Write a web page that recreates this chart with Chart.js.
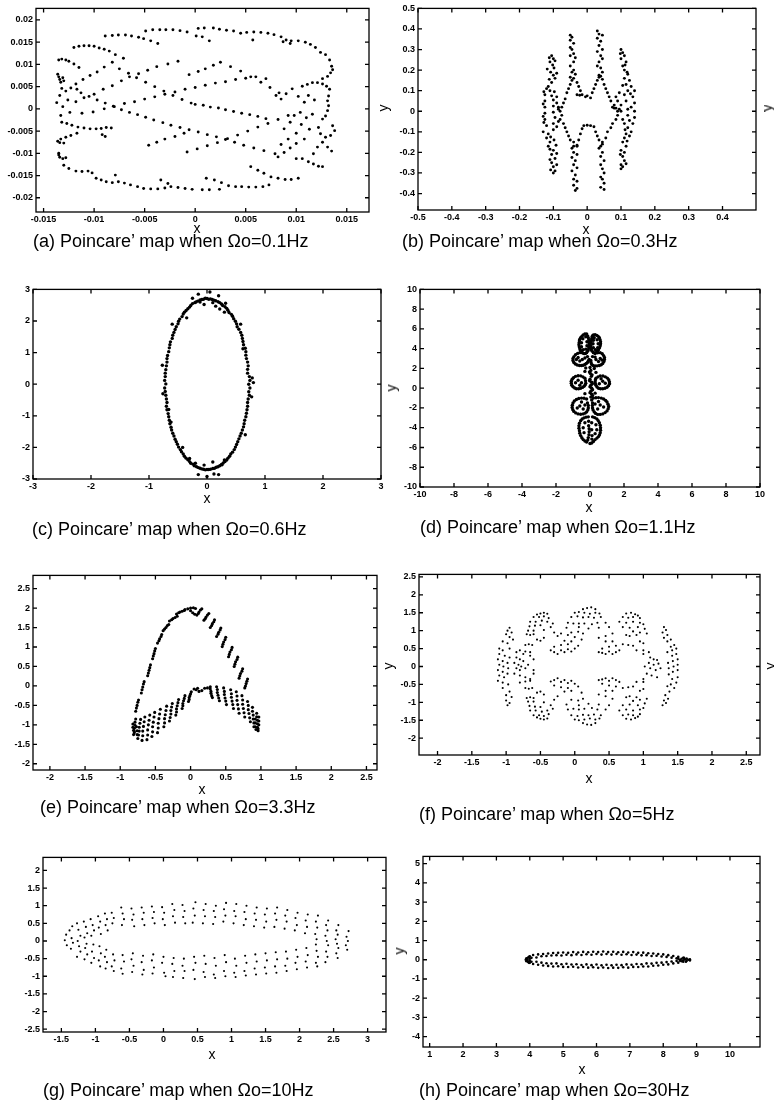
<!DOCTYPE html>
<html>
<head>
<meta charset="utf-8">
<script src="https://cdn.jsdelivr.net/npm/chart.js@4.4.1/dist/chart.umd.min.js"></script>
<style>
  html, body { margin: 0; padding: 0; background: #fff; }
  body { width: 774px; height: 1104px; position: relative; overflow: hidden;
         font-family: "Liberation Sans", Arial, sans-serif; color: #000; }
  .panel { position: absolute; }
  .cap { position: absolute; font-size: 18px; line-height: 18px; white-space: nowrap; }
  .xl { position: absolute; font-size: 14px; line-height: 14px; transform: translate(-50%, -50%); }
  .yl { position: absolute; font-size: 14px; line-height: 14px; transform: translate(-50%, -50%) rotate(-90deg); }
</style>
</head>
<body>
<script>
// ---- Poincaré section points (x, y) for each driving frequency ----

// Ωo = 0.1 Hz
const mapA = [
  [-0.0089,0.0164],[-0.0082,0.0165],[-0.0076,0.0166],[-0.0069,0.0166],[-0.0063,0.0164],[-0.0056,0.0161],[-0.0051,0.0158],[-0.0044,0.0153],[-0.0037,0.0147],
  [-0.0049,0.0175],[-0.0042,0.0178],[-0.0035,0.0178],[-0.0029,0.0178],[-0.0022,0.0178],[-0.0015,0.0176],[-0.0008,0.0173],[0.0003,0.0181],[0.0009,0.0182],[0.0018,0.0182],[0.0024,0.0179],[0.0031,0.0177],[0.0038,0.0175],[0.0045,0.0170],[0.0051,0.0172],[0.0058,0.0173],[0.0065,0.0172],[0.0072,0.0170],[0.0078,0.0167],[0.0085,0.0162],[0.0090,0.0155],[0.0095,0.0153],[0.0102,0.0153],[0.0109,0.0150],[0.0114,0.0145],[0.0119,0.0138],[0.0124,0.0127],[0.0129,0.0122],[0.0133,0.0110],[0.0135,0.0096],[0.0136,0.0088],[0.0134,0.0081],[0.0131,0.0073],[0.0126,0.0068],
  [0.0007,0.0162],[0.0014,0.0153],[0.0057,0.0155],[0.0087,0.0151],[0.0094,0.0147],[0.0001,0.0164],
  [-0.0120,0.0138],[-0.0115,0.0141],[-0.0110,0.0142],[-0.0105,0.0142],[-0.0100,0.0141],[-0.0095,0.0137],[-0.0090,0.0134],[-0.0085,0.0130],[-0.0079,0.0122],
  [-0.0135,0.0110],[-0.0132,0.0112],[-0.0128,0.0110],[-0.0125,0.0107],[-0.0120,0.0101],[-0.0115,0.0093],
  [-0.0136,0.0078],[-0.0135,0.0072],[-0.0134,0.0066],[-0.0133,0.0060],[-0.0131,0.0070],[-0.0130,0.0063],[-0.0137,0.0014],[-0.0132,0.0046],[-0.0123,0.0047],[-0.0117,0.0044],[-0.0134,0.0030],[-0.0128,0.0040],[-0.0126,0.0020],[-0.0131,0.0005],[-0.0124,-0.0008],[-0.0133,-0.0015],
  [-0.0118,0.0056],[-0.0111,0.0066],[-0.0104,0.0075],[-0.0097,0.0083],[-0.0090,0.0094],[-0.0082,0.0105],[-0.0071,0.0114],
  [-0.0118,0.0016],[-0.0110,0.0025],[-0.0100,0.0033],[-0.0091,0.0044],[-0.0082,0.0052],[-0.0073,0.0063],[-0.0065,0.0072],[-0.0056,0.0079],[-0.0047,0.0087],[-0.0038,0.0095],[-0.0027,0.0101],[-0.0017,0.0107],
  [-0.0112,-0.0010],[-0.0101,-0.0007],[-0.0090,0.0000],[-0.0080,0.0005],[-0.0070,0.0012],[-0.0060,0.0016],[-0.0050,0.0022],[-0.0040,0.0027],[-0.0030,0.0033],[-0.0020,0.0038],[-0.0010,0.0044],[0.0000,0.0048],[0.0010,0.0053],[0.0020,0.0058],[0.0030,0.0061],[0.0040,0.0066],[0.0050,0.0069],[0.0060,0.0072],[0.0070,0.0068],
  [-0.0113,0.0036],[-0.0105,0.0028],[-0.0097,0.0020],[-0.0089,0.0013],[-0.0081,0.0006],[-0.0073,-0.0002],[-0.0065,-0.0008],[-0.0057,-0.0013],[-0.0049,-0.0019],[-0.0041,-0.0025],[-0.0032,-0.0031],[-0.0024,-0.0037],[-0.0015,-0.0042],[-0.0006,-0.0047],[0.0003,-0.0052],[0.0012,-0.0058],[0.0021,-0.0063],[0.0030,-0.0069],[0.0039,-0.0075],[0.0048,-0.0082],[0.0058,-0.0088],[0.0068,-0.0094],[0.0079,-0.0101],
  [-0.0132,-0.0030],[-0.0127,-0.0033],[-0.0122,-0.0037],[-0.0116,-0.0041],[-0.0110,-0.0043],[-0.0104,-0.0045],[-0.0098,-0.0045],[-0.0093,-0.0044],[-0.0088,-0.0042],[-0.0083,-0.0043],[-0.0092,-0.0058],[-0.0089,-0.0062],
  [-0.0117,-0.0055],[-0.0123,-0.0060],[-0.0128,-0.0064],[-0.0133,-0.0068],[-0.0136,-0.0073],[-0.0134,-0.0076],[-0.0130,-0.0077],
  [-0.0135,-0.0100],[-0.0135,-0.0104],[-0.0134,-0.0109],[-0.0131,-0.0112],[-0.0128,-0.0110],
  [-0.0130,-0.0127],[-0.0125,-0.0134],[-0.0118,-0.0140],[-0.0112,-0.0141],[-0.0106,-0.0140],[-0.0102,-0.0144],[-0.0098,-0.0156],[-0.0093,-0.0160],[-0.0088,-0.0164],[-0.0082,-0.0166],[-0.0076,-0.0164],[-0.0070,-0.0167],[-0.0064,-0.0171],[-0.0057,-0.0175],[-0.0051,-0.0179],[-0.0044,-0.0180],[-0.0037,-0.0180],[-0.0030,-0.0178],[-0.0024,-0.0175],[-0.0017,-0.0177],[-0.0010,-0.0179],[-0.0003,-0.0181],[0.0007,-0.0182],[0.0014,-0.0182],[0.0024,-0.0181],[0.0033,-0.0173],[0.0040,-0.0175],[0.0046,-0.0175],[0.0053,-0.0176],[0.0060,-0.0176],[0.0067,-0.0175],[0.0073,-0.0171],
  [-0.0079,-0.0149],[-0.0034,-0.0160],[-0.0027,-0.0168],[0.0011,-0.0156],[0.0019,-0.0160],[0.0026,-0.0166],
  [0.0055,-0.0130],[0.0062,-0.0138],[0.0068,-0.0145],[0.0075,-0.0153],[0.0082,-0.0156],[0.0089,-0.0159],[0.0095,-0.0159],[0.0102,-0.0156],
  [0.0106,0.0051],[0.0111,0.0055],[0.0116,0.0059],[0.0121,0.0059],[0.0126,0.0056],[0.0130,0.0051],[0.0133,0.0044],[0.0132,0.0029],[0.0131,0.0018],[0.0132,0.0007],[0.0131,-0.0004],[0.0129,-0.0016],[0.0126,-0.0023],[0.0136,-0.0038],[0.0138,-0.0049],[0.0134,-0.0060],[0.0129,-0.0064],[0.0124,-0.0056],[0.0122,-0.0042],[0.0126,-0.0075],[0.0131,-0.0086],[0.0135,-0.0095],[0.0121,-0.0086],[0.0117,-0.0101],[0.0112,-0.0119],[0.0117,-0.0124],[0.0122,-0.0129],[0.0126,-0.0130],[0.0106,-0.0112],[0.0100,-0.0112],
  [0.0096,0.0045],[0.0090,0.0034],[0.0085,0.0022],[0.0080,0.0030],[0.0102,0.0028],[0.0108,0.0015],[0.0112,0.0030],[0.0118,0.0020],[0.0104,-0.0008],[0.0098,-0.0015],[0.0110,-0.0020],[0.0116,-0.0012],[0.0094,-0.0030],[0.0105,-0.0035],[0.0113,-0.0046],[0.0088,-0.0045],[0.0100,-0.0055],[0.0092,-0.0068],[0.0085,-0.0080],[0.0108,-0.0068],
  [-0.0008,-0.0097],[0.0002,-0.0090],[0.0012,-0.0083],[0.0022,-0.0076],[0.0032,-0.0067],[0.0042,-0.0059],[0.0052,-0.0050],[0.0062,-0.0041],[0.0072,-0.0033],[0.0082,-0.0024],[0.0092,-0.0015],
  [-0.0046,-0.0082],[-0.0038,-0.0075],[-0.0030,-0.0068],[-0.0020,-0.0062],[-0.0011,-0.0055],
  [0.0082,-0.0108],[0.0088,-0.0098],[0.0094,-0.0088],[0.0100,-0.0078],
  [0.0025,0.0105],[0.0035,0.0095],[0.0045,0.0085],[0.0055,0.0072],[0.0065,0.0060],[0.0074,0.0048],[0.0083,0.0036],
  [-0.0006,0.0077],[0.0003,0.0084],[0.0010,0.0090],[0.0018,0.0098],
  [0.0000,0.0010],[0.0008,0.0008],[0.0015,0.0004],[0.0023,0.0002],[0.0030,-0.0002],[0.0038,-0.0006],[0.0046,-0.0010],[0.0054,-0.0013],[0.0062,-0.0017],[0.0070,-0.0022],
  [-0.0075,0.0090],[-0.0066,0.0080],[-0.0058,0.0070],[-0.0049,0.0060],[-0.0040,0.0050],[-0.0031,0.0040],[-0.0022,0.0030],[-0.0013,0.0021],[-0.0004,0.0013]
];

// Ωo = 0.3 Hz
const mapB = [
  [-0.105,0.27],[-0.100,0.255],[-0.110,0.24],[-0.102,0.225],[-0.098,0.21],[-0.108,0.19],[-0.100,0.175],[-0.095,0.16],[-0.105,0.14],[-0.115,0.12],[-0.120,0.11],[-0.110,0.10],[-0.097,0.095],[-0.125,0.08],[-0.105,0.075],[-0.090,0.07],[-0.125,0.05],[-0.100,0.055],[-0.090,0.04],[-0.125,0.02],[-0.100,0.025],[-0.085,0.02],[-0.125,-0.01],[-0.100,-0.005],[-0.080,0.0],[-0.125,-0.04],[-0.095,-0.03],[-0.075,-0.02],[-0.120,-0.07],[-0.100,-0.06],[-0.085,-0.05],[-0.130,-0.10],[-0.115,-0.11],[-0.100,-0.09],[-0.120,-0.13],[-0.110,-0.15],[-0.098,-0.14],[-0.115,-0.17],[-0.100,-0.19],[-0.105,-0.21],[-0.095,-0.23],[-0.105,-0.25],[-0.100,-0.27],[-0.095,-0.29],[-0.100,-0.30],
  [-0.112,0.26],[-0.095,0.245],[-0.118,0.205],[-0.090,0.185],[-0.112,0.155],[-0.128,0.095],[-0.130,0.035],[-0.130,-0.025],[-0.128,-0.055],[-0.090,-0.075],[-0.108,-0.125],[-0.092,-0.165],[-0.110,-0.185],[-0.090,-0.205],[-0.110,-0.235],[-0.090,-0.26],[-0.108,-0.285],
  [-0.085,0.01],[-0.075,0.02],[-0.070,0.04],[-0.065,0.06],[-0.060,0.09],[-0.055,0.11],[-0.050,0.13],[-0.045,0.15],[-0.040,0.16],[-0.030,0.14],[-0.025,0.12],[-0.020,0.10],[-0.015,0.08],[-0.030,0.08],[-0.022,0.078],[-0.005,0.07],[0.000,0.075],[0.010,0.065],[0.015,0.09],[0.020,0.11],[0.025,0.13],[0.030,0.15],[0.035,0.165],[0.040,0.17],[0.045,0.155],[0.050,0.13],[0.055,0.11],[0.060,0.09],[0.065,0.07],[0.070,0.05],[0.080,0.03],[0.085,0.015],[0.090,0.0],
  [-0.050,0.37],[-0.045,0.36],[-0.050,0.345],[-0.040,0.33],[-0.050,0.31],[-0.045,0.30],[-0.040,0.28],[-0.050,0.27],[-0.035,0.26],[-0.040,0.24],[-0.050,0.22],[-0.040,0.20],[-0.045,0.19],[-0.035,0.18],[-0.050,0.165],
  [-0.040,-0.17],[-0.030,-0.165],[-0.045,-0.18],[-0.040,-0.20],[-0.030,-0.21],[-0.045,-0.225],[-0.035,-0.24],[-0.040,-0.26],[-0.030,-0.275],[-0.045,-0.29],[-0.035,-0.31],[-0.040,-0.33],[-0.030,-0.34],[-0.040,-0.36],[-0.030,-0.375],[-0.035,-0.385],
  [0.030,0.39],[0.035,0.375],[0.045,0.37],[0.030,0.355],[0.040,0.34],[0.035,0.32],[0.045,0.30],[0.030,0.29],[0.040,0.27],[0.045,0.255],[0.035,0.24],[0.030,0.22],[0.040,0.21],[0.045,0.19],[0.035,0.175],
  [0.040,-0.17],[0.045,-0.16],[0.035,-0.18],[0.045,-0.20],[0.040,-0.22],[0.050,-0.24],[0.040,-0.26],[0.045,-0.28],[0.050,-0.30],[0.040,-0.32],[0.045,-0.33],[0.050,-0.35],[0.040,-0.37],[0.050,-0.38],
  [-0.080,-0.04],[-0.070,-0.06],[-0.065,-0.08],[-0.060,-0.10],[-0.055,-0.12],[-0.050,-0.14],[-0.040,-0.15],[-0.030,-0.17],[-0.025,-0.14],[-0.020,-0.11],[-0.015,-0.085],[-0.010,-0.07],[0.000,-0.068],[0.010,-0.07],[0.020,-0.075],[0.025,-0.10],[0.030,-0.12],[0.035,-0.14],[0.045,-0.15],[0.055,-0.13],[0.060,-0.10],[0.070,-0.08],[0.075,-0.06],[0.085,-0.04],[0.090,-0.02],
  [0.100,0.30],[0.105,0.285],[0.110,0.27],[0.100,0.255],[0.115,0.24],[0.105,0.22],[0.110,0.20],[0.120,0.18],[0.110,0.16],[0.125,0.15],[0.115,0.13],[0.130,0.12],[0.140,0.10],[0.120,0.10],[0.135,0.07],[0.110,0.08],[0.140,0.04],[0.115,0.05],[0.100,0.03],[0.140,0.0],[0.120,0.01],[0.100,0.0],[0.140,-0.03],[0.120,-0.02],[0.105,-0.04],[0.135,-0.06],[0.120,-0.08],[0.130,-0.10],[0.115,-0.11],[0.125,-0.12],[0.110,-0.13],[0.105,-0.15],[0.115,-0.17],[0.100,-0.19],[0.110,-0.20],[0.105,-0.22],[0.110,-0.24],[0.100,-0.26],[0.105,-0.27],[0.100,-0.28],
  [0.075,0.02],[0.080,0.015],[0.095,0.01],[0.090,0.05],[0.085,0.07],[0.095,0.09],[0.105,0.125],[0.128,0.085],[0.130,0.02],[0.110,-0.06],[0.125,-0.045],[0.112,-0.09],[0.118,-0.145],[0.098,-0.21],[0.115,-0.255],[0.098,0.28],[0.112,0.225],[0.118,0.19]
];

// Ωo = 0.6 Hz
const mapC = [
  [0.72,0.00],[0.73,0.24],[0.70,0.47],[0.70,0.70],[0.67,0.92],[0.66,1.14],[0.62,1.35],[0.60,1.55],[0.55,1.74],[0.51,1.91],[0.46,2.07],[0.42,2.21],[0.36,2.34],[0.31,2.45],[0.25,2.54],[0.19,2.61],[0.12,2.66],[0.06,2.70],[0.00,2.71],
  [0.74,0.12],[0.70,0.35],[0.71,0.58],[0.68,0.81],[0.67,1.03],[0.63,1.25],[0.61,1.45],[0.58,1.64],[0.52,1.82],[0.49,1.99],[0.44,2.15],[0.38,2.27],[0.34,2.40],[0.27,2.49],[0.22,2.58],[0.15,2.64],[0.09,2.68],[0.03,2.69],
  [-0.06,2.69],[-0.12,2.67],[-0.19,2.60],[-0.25,2.55],[-0.30,2.44],[-0.36,2.33],[-0.41,2.22],[-0.47,2.06],[-0.50,1.91],[-0.55,1.73],[-0.59,1.55],[-0.63,1.34],[-0.65,1.15],[-0.68,0.91],[-0.69,0.70],[-0.71,0.46],[-0.72,0.24],[-0.71,0.01],
  [-0.03,2.72],[-0.09,2.68],[-0.16,2.63],[-0.21,2.58],[-0.28,2.49],[-0.33,2.39],[-0.39,2.28],[-0.43,2.14],[-0.49,1.99],[-0.53,1.82],[-0.57,1.64],[-0.60,1.45],[-0.64,1.25],[-0.66,1.03],[-0.69,0.81],[-0.70,0.58],[-0.72,0.35],[-0.73,0.12],
  [-0.72,-0.23],[-0.70,-0.47],[-0.70,-0.70],[-0.67,-0.93],[-0.65,-1.14],[-0.62,-1.36],[-0.59,-1.55],[-0.55,-1.74],[-0.51,-1.90],[-0.46,-2.07],[-0.41,-2.21],[-0.36,-2.34],[-0.30,-2.45],[-0.24,-2.53],[-0.18,-2.61],[-0.12,-2.66],[-0.06,-2.69],[0.00,-2.70],
  [-0.73,-0.12],[-0.71,-0.35],[-0.69,-0.58],[-0.69,-0.81],[-0.66,-1.03],[-0.64,-1.25],[-0.61,-1.45],[-0.57,-1.64],[-0.53,-1.82],[-0.49,-1.99],[-0.44,-2.14],[-0.39,-2.28],[-0.33,-2.39],[-0.28,-2.50],[-0.22,-2.58],[-0.15,-2.64],[-0.09,-2.68],[-0.03,-2.71],
  [0.06,-2.69],[0.13,-2.66],[0.19,-2.61],[0.25,-2.54],[0.31,-2.45],[0.36,-2.34],[0.41,-2.21],[0.47,-2.07],[0.51,-1.91],[0.55,-1.73],[0.59,-1.55],[0.63,-1.35],[0.65,-1.14],[0.68,-0.92],[0.70,-0.70],[0.71,-0.47],[0.72,-0.24],
  [0.03,-2.70],[0.10,-2.67],[0.16,-2.63],[0.22,-2.58],[0.28,-2.49],[0.34,-2.40],[0.39,-2.28],[0.44,-2.15],[0.49,-1.99],[0.53,-1.82],[0.57,-1.64],[0.61,-1.45],[0.64,-1.25],[0.67,-1.03],[0.69,-0.81],[0.70,-0.58],[0.73,-0.35],[0.74,-0.12],
  [-0.15,2.85],[0.05,2.92],[0.20,2.80],[-0.25,2.72],[0.32,2.56],[-0.05,2.52],[0.15,2.47],[0.10,2.58],[-0.12,2.60],[0.22,2.38],[0.30,2.28],[-0.35,2.10],
  [-0.15,-2.86],[0.00,-2.92],[0.20,-2.86],[-0.20,-2.50],[0.10,-2.46],[0.26,-2.55],[-0.05,-2.56],[0.30,-2.40],[-0.30,-2.35],[0.12,-2.84],
  [0.78,0.20],[-0.77,0.60],[0.77,-0.40],[-0.66,-0.80],[0.58,1.90],[-0.60,1.90],[0.66,-1.60],[-0.42,-2.00],[0.80,0.05],[-0.76,-0.30],[0.62,1.12],[-0.62,-1.20]
];

// Ωo = 1.1 Hz
const mapD = [
  [-0.20,5.50],[-0.40,5.40],[-0.55,5.10],[-0.62,4.80],[-0.65,4.40],[-0.60,4.00],[-0.50,3.70],[-0.35,3.50],[-0.20,3.60],[-0.10,3.90],[-0.05,4.30],[-0.05,4.70],[-0.10,5.10],[-0.30,5.48],[-0.48,5.25],[-0.60,4.95],[-0.64,4.60],[-0.63,4.20],[-0.56,3.85],[-0.43,3.58],[-0.27,3.52],[-0.14,3.75],[-0.07,4.10],[-0.05,4.50],[-0.07,4.90],[-0.14,5.30],
  [-0.25,5.20],[-0.42,5.00],[-0.50,4.60],[-0.50,4.20],[-0.40,3.90],[-0.25,3.95],[-0.18,4.30],[-0.18,4.70],
  [0.20,5.40],[0.40,5.35],[0.55,5.10],[0.62,4.70],[0.60,4.30],[0.50,3.90],[0.35,3.60],[0.20,3.60],[0.08,3.90],[0.05,4.30],[0.08,4.80],[0.12,5.20],[0.30,5.42],[0.48,5.25],[0.59,4.90],[0.62,4.50],[0.56,4.10],[0.43,3.75],[0.27,3.58],[0.13,3.75],[0.06,4.10],[0.06,4.55],[0.10,5.00],[0.16,5.32],
  [0.25,5.10],[0.42,4.90],[0.48,4.50],[0.45,4.10],[0.32,3.90],[0.20,4.10],[0.18,4.50],[0.20,4.85],
  [-0.30,3.50],[-0.60,3.60],[-0.85,3.40],[-1.00,3.00],[-0.95,2.60],[-0.75,2.35],[-0.50,2.30],[-0.30,2.40],[-0.15,2.60],[-0.05,2.90],[-0.45,3.58],[-0.73,3.52],[-0.94,3.20],[-1.00,2.80],[-0.86,2.45],[-0.62,2.30],[-0.40,2.33],[-0.22,2.50],[-0.10,2.75],[-0.15,3.20],[-0.70,3.10],[-0.45,2.90],[-0.60,2.75],[-0.30,3.05],[-0.80,2.90],
  [0.30,3.50],[0.60,3.60],[0.80,3.30],[0.85,2.90],[0.75,2.50],[0.55,2.30],[0.30,2.25],[0.10,2.40],[0.05,2.80],[0.45,3.58],[0.72,3.48],[0.85,3.10],[0.82,2.70],[0.66,2.38],[0.42,2.26],[0.18,2.30],[0.06,2.60],[0.15,3.20],[0.60,3.00],[0.35,2.90],[0.50,2.70],[0.70,2.85],[0.30,3.15],
  [0.05,1.80],[0.02,1.50],[0.08,1.20],[0.00,0.90],[0.10,0.60],[0.05,0.30],[0.10,0.00],[0.05,-0.30],[0.10,-0.60],[0.05,-0.90],[0.10,-1.20],[0.00,2.10],[-0.03,1.65],[0.12,1.35],[-0.02,0.75],[0.14,0.45],[0.00,0.15],[0.15,-0.15],[0.00,-0.45],[0.15,-0.75],
  [-0.30,1.00],[-0.55,1.25],[-0.85,1.20],[-1.05,0.90],[-1.10,0.50],[-1.00,0.15],[-0.80,-0.05],[-0.55,0.00],[-0.35,0.20],[-0.25,0.50],[-0.42,1.15],[-0.70,1.26],[-0.97,1.06],[-1.10,0.70],[-1.07,0.30],[-0.90,0.02],[-0.67,-0.05],[-0.44,0.08],[-0.28,0.35],[-0.26,0.75],[-0.70,0.80],[-0.50,0.55],[-0.85,0.55],[-0.60,0.30],
  [0.35,1.00],[0.60,1.25],[0.90,1.15],[1.10,0.85],[1.15,0.45],[1.00,0.10],[0.75,-0.05],[0.50,0.00],[0.35,0.30],[0.30,0.65],[0.47,1.15],[0.76,1.24],[1.02,1.02],[1.14,0.65],[1.09,0.26],[0.88,0.00],[0.62,-0.05],[0.41,0.13],[0.31,0.48],[0.32,0.85],[0.75,0.70],[0.55,0.45],[0.90,0.50],[0.65,0.95],
  [-0.20,-1.10],[-0.50,-1.00],[-0.80,-1.15],[-1.00,-1.50],[-1.05,-1.95],[-0.95,-2.35],[-0.70,-2.60],[-0.40,-2.60],[-0.20,-2.40],[-0.10,-2.00],[-0.15,-1.50],[-0.35,-1.02],[-0.66,-1.05],[-0.92,-1.30],[-1.04,-1.72],[-1.01,-2.17],[-0.84,-2.50],[-0.55,-2.63],[-0.28,-2.52],[-0.13,-2.20],[-0.10,-1.75],[-0.60,-1.80],[-0.40,-2.10],[-0.75,-2.00],[-0.50,-1.40],[-0.30,-1.70],
  [0.20,-1.00],[0.50,-0.95],[0.80,-1.10],[1.00,-1.40],[1.10,-1.85],[1.00,-2.30],[0.75,-2.60],[0.45,-2.65],[0.25,-2.40],[0.15,-2.00],[0.15,-1.50],[0.35,-0.96],[0.66,-1.00],[0.92,-1.24],[1.06,-1.62],[1.07,-2.08],[0.89,-2.47],[0.60,-2.65],[0.33,-2.55],[0.18,-2.20],[0.14,-1.75],[0.60,-1.70],[0.45,-2.10],[0.80,-1.90],[0.50,-1.35],[0.30,-1.60],
  [-0.10,-2.90],[-0.35,-3.00],[-0.55,-3.30],[-0.65,-3.80],[-0.62,-4.30],[-0.55,-4.80],[-0.40,-5.20],[-0.20,-5.45],[-0.10,-5.00],[-0.05,-4.40],[-0.08,-3.80],[-0.23,-2.93],[-0.46,-3.12],[-0.62,-3.55],[-0.65,-4.05],[-0.60,-4.55],[-0.48,-5.02],[-0.30,-5.35],[-0.13,-5.25],[-0.06,-4.70],[-0.05,-4.10],[-0.08,-3.35],[-0.40,-4.00],[-0.35,-4.50],[-0.30,-3.50],
  [0.15,-2.90],[0.40,-3.10],[0.55,-3.50],[0.62,-4.00],[0.60,-4.50],[0.50,-4.90],[0.30,-5.20],[0.10,-5.55],[0.00,-5.60],[0.12,-4.80],[0.10,-4.20],[0.10,-3.50],[0.28,-2.98],[0.48,-3.28],[0.60,-3.75],[0.62,-4.25],[0.56,-4.72],[0.41,-5.05],[0.20,-5.40],[0.11,-5.15],[0.40,-4.20],[0.35,-3.70],[0.30,-4.60],
  [0.35,1.60],[-0.30,1.70],[0.30,-0.50],[-0.30,-0.55],[0.25,2.00],[-0.25,2.05]
];

// Ωo = 3.3 Hz
const mapE = [
  [-0.78,-0.65],[-0.77,-0.57],[-0.76,-0.50],[-0.75,-0.42],[-0.74,-0.36],
  [-0.70,-0.18],[-0.69,-0.10],[-0.68,-0.03],[-0.67,0.05],[-0.66,0.11],
  [-0.61,0.26],[-0.60,0.33],[-0.59,0.40],[-0.58,0.47],[-0.57,0.54],
  [-0.54,0.70],[-0.53,0.77],[-0.52,0.83],[-0.51,0.90],[-0.50,0.96],
  [-0.47,1.10],[-0.45,1.16],[-0.44,1.21],[-0.42,1.27],[-0.41,1.32],
  [-0.39,1.42],[-0.37,1.46],[-0.35,1.50],[-0.33,1.55],[-0.31,1.58],
  [-0.30,1.67],[-0.27,1.70],[-0.25,1.73],[-0.22,1.76],[-0.19,1.79],
  [-0.20,1.85],[-0.17,1.88],[-0.15,1.90],[-0.12,1.92],[-0.09,1.94],
  [-0.08,1.96],[-0.04,1.98],[0.00,2.00],[0.04,2.01],[0.07,1.99],[0.00,1.93],[0.03,1.88],[0.06,1.84],
  [0.09,1.82],[0.11,1.86],[0.12,1.90],[0.14,1.95],[0.16,1.98],
  [0.19,1.69],[0.21,1.73],[0.22,1.77],[0.24,1.82],[0.26,1.86],
  [0.28,1.50],[0.30,1.55],[0.31,1.60],[0.33,1.65],[0.34,1.70],
  [0.37,1.27],[0.39,1.33],[0.40,1.38],[0.42,1.44],[0.43,1.49],
  [0.45,1.01],[0.46,1.07],[0.47,1.13],[0.49,1.19],[0.50,1.25],
  [0.54,0.75],[0.55,0.81],[0.56,0.87],[0.58,0.93],[0.59,0.99],
  [0.62,0.50],[0.63,0.56],[0.64,0.62],[0.66,0.68],[0.67,0.74],
  [0.69,0.20],[0.70,0.26],[0.71,0.32],[0.73,0.38],[0.74,0.44],
  [0.77,-0.05],[0.78,0.00],[0.79,0.06],[0.80,0.12],[0.81,0.18],
  [-0.78,-0.85],[-0.79,-0.93],[-0.79,-1.01],[-0.80,-1.09],[-0.80,-1.17],[-0.81,-1.25],
  [-0.82,-0.98],[-0.82,-1.06],[-0.81,-1.14],[-0.80,-1.20],[-0.77,-1.05],[-0.76,-1.15],[-0.76,-1.25],
  [-0.71,-0.86],[-0.72,-0.96],[-0.73,-1.06],[-0.73,-1.16],[-0.74,-1.26],[-0.75,-1.35],
  [-0.65,-0.80],[-0.66,-0.92],[-0.67,-1.04],[-0.68,-1.16],[-0.68,-1.28],[-0.69,-1.40],
  [-0.58,-0.75],[-0.59,-0.88],[-0.60,-1.00],[-0.61,-1.13],[-0.61,-1.26],[-0.62,-1.38],
  [-0.51,-0.68],[-0.52,-0.80],[-0.53,-0.93],[-0.54,-1.05],[-0.54,-1.18],[-0.55,-1.30],
  [-0.43,-0.60],[-0.44,-0.72],[-0.45,-0.84],[-0.46,-0.96],[-0.46,-1.08],[-0.47,-1.20],
  [-0.34,-0.52],[-0.35,-0.63],[-0.36,-0.74],[-0.37,-0.84],[-0.37,-0.95],[-0.38,-1.05],
  [-0.26,-0.45],[-0.27,-0.54],[-0.28,-0.63],[-0.28,-0.72],[-0.29,-0.81],[-0.30,-0.90],
  [-0.17,-0.35],[-0.18,-0.43],[-0.19,-0.51],[-0.20,-0.59],[-0.20,-0.67],[-0.21,-0.75],
  [-0.08,-0.25],[-0.09,-0.32],[-0.10,-0.38],[-0.11,-0.45],[-0.11,-0.51],[-0.12,-0.58],
  [0.01,-0.15],[0.00,-0.20],[-0.01,-0.25],[-0.02,-0.30],[-0.02,-0.35],[-0.03,-0.40],
  [0.05,-0.08],[0.08,-0.10],[0.12,-0.14],[0.16,-0.12],[0.20,-0.06],[0.24,-0.05],[0.10,-0.06],
  [0.28,-0.02],[0.28,-0.08],[0.29,-0.14],[0.29,-0.19],[0.30,-0.25],[0.31,-0.30],
  [0.37,-0.02],[0.38,-0.09],[0.38,-0.17],[0.39,-0.24],[0.40,-0.31],[0.41,-0.38],
  [0.47,-0.05],[0.48,-0.14],[0.48,-0.22],[0.49,-0.31],[0.50,-0.39],[0.51,-0.48],
  [0.57,-0.10],[0.58,-0.20],[0.58,-0.29],[0.59,-0.39],[0.60,-0.48],[0.61,-0.58],
  [0.65,-0.15],[0.66,-0.26],[0.66,-0.37],[0.67,-0.48],[0.68,-0.59],[0.69,-0.70],
  [0.73,-0.25],[0.74,-0.36],[0.74,-0.47],[0.75,-0.58],[0.76,-0.69],[0.77,-0.80],
  [0.81,-0.40],[0.82,-0.50],[0.82,-0.61],[0.83,-0.71],[0.84,-0.82],[0.85,-0.92],
  [0.88,-0.55],[0.88,-0.65],[0.89,-0.75],[0.89,-0.85],[0.90,-0.95],[0.90,-1.05],
  [0.94,-0.70],[0.94,-0.79],[0.95,-0.88],[0.95,-0.97],[0.95,-1.06],[0.96,-1.15],
  [0.97,-0.80],[0.97,-0.90],[0.97,-1.00],[0.96,-1.10],[0.92,-0.85],[0.92,-0.95],[0.92,-1.05],[0.93,-1.12]
];

// Ωo = 5 Hz
const mapF = [
  [0.12,1.60],[0.18,1.63],[0.24,1.65],[0.30,1.60],[0.00,1.50],[0.06,1.52],[0.14,1.50],[0.22,1.47],[0.30,1.50],[0.36,1.48],[-0.05,1.38],[0.04,1.40],[0.12,1.37],[0.20,1.38],[0.28,1.36],[0.38,1.38],[-0.10,1.22],[-0.02,1.20],[0.06,1.20],[0.14,1.20],[0.25,1.18],[0.33,1.22],[-0.12,1.08],[0.06,1.10],[0.20,1.06],[0.35,1.08],[-0.05,0.95],[0.05,0.97],[0.12,0.92],[0.45,1.22],[0.50,1.10],
  [-0.55,1.45],[-0.50,1.48],[-0.45,1.50],[-0.40,1.47],[-0.60,1.38],[-0.52,1.38],[-0.45,1.40],[-0.38,1.35],[-0.65,1.25],[-0.57,1.25],[-0.48,1.28],[-0.40,1.25],[-0.32,1.20],[-0.66,1.12],[-0.58,1.14],[-0.50,1.15],[-0.35,1.10],[-0.68,1.00],[-0.60,1.00],[-0.45,1.02],[-0.30,0.95],[-0.25,0.85],
  [0.75,1.48],[0.82,1.50],[0.88,1.46],[0.92,1.42],[0.70,1.38],[0.78,1.36],[0.85,1.38],[0.95,1.35],[0.65,1.25],[0.75,1.22],[0.85,1.25],[0.95,1.22],[1.00,1.18],[0.70,1.10],[0.80,1.08],[0.92,1.10],[1.02,1.05],[0.85,0.98],[0.95,0.95],[1.05,0.92],
  [-0.70,0.90],[-0.65,0.88],[-0.60,0.90],[-0.72,0.60],[-0.67,0.62],[-0.62,0.60],[-0.55,0.75],[-0.50,0.72],[-0.45,0.80],[-0.80,0.45],[-0.72,0.42],[-0.65,0.40],
  [-0.35,0.45],[-0.30,0.40],[-0.25,0.35],[-0.20,0.45],[-0.15,0.40],[-0.10,0.48],[-0.05,0.42],[0.00,0.50],[-0.30,0.55],[-0.20,0.60],[-0.10,0.62],[0.05,0.58],[-0.15,0.72],[-0.05,0.70],[0.10,0.75],[-0.20,0.92],[-0.10,0.88],[0.00,0.82],
  [0.35,0.40],[0.40,0.38],[0.45,0.35],[0.50,0.42],[0.55,0.35],[0.60,0.40],[0.65,0.45],[0.40,0.50],[0.50,0.55],[0.60,0.58],[0.45,0.70],[0.55,0.70],[0.35,0.80],[0.45,0.85],[0.55,0.92],
  [0.75,0.88],[0.80,0.85],[0.90,0.88],[0.70,0.62],[0.78,0.60],[0.85,0.58],[0.95,0.70],[1.00,0.65],[0.90,0.45],[1.00,0.45],
  [-0.95,1.08],[-0.98,1.00],[-0.92,0.95],[-1.00,0.90],[-0.95,0.82],[-0.90,0.75],[-1.05,0.70],[-0.98,0.65],[-1.10,0.50],[-1.05,0.45],[-0.95,0.50],[-1.10,0.35],[-1.02,0.30],[-0.95,0.25],[-1.12,0.20],[-1.05,0.15],[-0.98,0.10],[-1.10,0.05],[-1.04,0.00],[-0.97,-0.05],[-1.12,-0.10],[-1.05,-0.15],[-0.98,-0.20],[-1.10,-0.25],[-1.03,-0.30],[-1.12,-0.40],[-1.05,-0.45],[-0.97,-0.50],[-1.05,-0.60],[-0.95,-0.70],[-1.00,-0.80],[-0.92,-0.85],[-1.00,-0.95],[-0.95,-1.02],[-0.98,-1.08],
  [-0.85,0.25],[-0.80,0.20],[-0.75,0.15],[-0.88,0.10],[-0.82,0.05],[-0.78,0.00],[-0.85,-0.05],[-0.80,-0.10],[-0.72,-0.05],[-0.68,0.05],[-0.88,-0.20],[-0.80,-0.25],[-0.72,-0.30],[-0.65,-0.35],[-0.85,0.40],[-0.75,0.35],[-0.65,0.30],[-0.60,0.20],[-0.60,-0.10],[-0.60,-0.20],
  [1.30,1.10],[1.33,1.02],[1.28,0.95],[1.35,0.88],[1.30,0.80],[1.40,0.75],[1.35,0.70],[1.45,0.60],[1.40,0.55],[1.48,0.50],[1.42,0.45],[1.35,0.40],[1.48,0.35],[1.42,0.30],[1.50,0.20],[1.43,0.15],[1.36,0.10],[1.50,0.05],[1.44,0.00],[1.37,-0.05],[1.50,-0.10],[1.43,-0.15],[1.37,-0.22],[1.50,-0.30],[1.42,-0.35],[1.48,-0.45],[1.40,-0.50],[1.35,-0.55],[1.45,-0.60],[1.38,-0.70],[1.32,-0.80],[1.36,-0.90],[1.30,-0.95],[1.33,-1.02],[1.28,-1.08],
  [1.10,0.25],[1.15,0.20],[1.20,0.18],[1.08,0.10],[1.15,0.05],[1.22,0.08],[1.10,-0.05],[1.18,-0.10],[1.25,-0.05],[1.05,-0.20],[1.12,-0.25],[1.20,-0.30],[1.00,0.35],[1.08,0.40],[1.00,-0.35],[1.02,0.00],
  [0.12,-1.58],[0.18,-1.62],[0.24,-1.63],[0.30,-1.58],[0.00,-1.48],[0.06,-1.50],[0.14,-1.48],[0.22,-1.45],[0.30,-1.48],[0.36,-1.45],[-0.05,-1.36],[0.04,-1.38],[0.12,-1.35],[0.20,-1.36],[0.28,-1.34],[0.38,-1.36],[-0.10,-1.20],[-0.02,-1.18],[0.06,-1.20],[0.14,-1.18],[0.25,-1.16],[0.33,-1.20],[-0.12,-1.06],[0.06,-1.08],[0.20,-1.04],[0.35,-1.06],[-0.05,-0.93],[0.05,-0.95],[0.12,-0.90],[0.45,-1.20],[0.50,-1.08],
  [-0.55,-1.42],[-0.50,-1.46],[-0.45,-1.48],[-0.40,-1.45],[-0.60,-1.36],[-0.52,-1.36],[-0.45,-1.38],[-0.38,-1.33],[-0.65,-1.23],[-0.57,-1.23],[-0.48,-1.26],[-0.40,-1.23],[-0.32,-1.18],[-0.66,-1.10],[-0.58,-1.12],[-0.50,-1.13],[-0.35,-1.08],[-0.68,-0.98],[-0.60,-0.98],[-0.45,-1.00],[-0.30,-0.93],[-0.25,-0.83],
  [0.75,-1.46],[0.82,-1.48],[0.88,-1.44],[0.92,-1.40],[0.70,-1.36],[0.78,-1.34],[0.85,-1.36],[0.95,-1.33],[0.65,-1.23],[0.75,-1.20],[0.85,-1.23],[0.95,-1.20],[1.00,-1.16],[0.70,-1.08],[0.80,-1.06],[0.92,-1.08],[1.02,-1.03],[0.85,-0.96],[0.95,-0.93],[1.05,-0.90],
  [-0.70,-0.88],[-0.65,-0.86],[-0.60,-0.88],[-0.72,-0.60],[-0.67,-0.62],[-0.62,-0.60],[-0.55,-0.73],[-0.50,-0.70],[-0.45,-0.78],[-0.80,-0.45],[-0.72,-0.42],[-0.65,-0.40],
  [-0.35,-0.42],[-0.30,-0.38],[-0.25,-0.33],[-0.20,-0.43],[-0.15,-0.38],[-0.10,-0.46],[-0.05,-0.40],[0.00,-0.48],[-0.30,-0.53],[-0.20,-0.58],[-0.10,-0.60],[0.05,-0.56],[-0.15,-0.70],[-0.05,-0.68],[0.10,-0.73],
  [0.35,-0.38],[0.40,-0.36],[0.45,-0.33],[0.50,-0.40],[0.55,-0.33],[0.60,-0.38],[0.65,-0.43],[0.40,-0.48],[0.50,-0.53],[0.60,-0.56],[0.45,-0.68],[0.55,-0.68],[0.35,-0.78],[0.45,-0.83],[0.55,-0.90],
  [0.75,-0.86],[0.80,-0.83],[0.90,-0.86],[0.70,-0.60],[0.78,-0.58],[0.85,-0.56],[0.95,-0.68],[1.00,-0.63],[0.90,-0.43],[1.00,-0.43]
];

// Ωo = 10 Hz
const mapG = [
  [-1.45,0.02],[-1.43,0.18],[-1.42,-0.12],
  [-1.38,0.30],[-1.35,0.08],[-1.33,-0.05],[-1.36,-0.22],[-1.34,0.42],
  [-1.27,0.50],[-1.25,0.32],[-1.22,0.15],[-1.26,0.00],[-1.24,-0.15],[-1.22,-0.30],[-1.27,-0.45],
  [-1.17,0.55],[-1.14,0.40],[-1.12,0.22],[-1.16,0.10],[-1.13,-0.08],[-1.15,-0.20],[-1.12,-0.38],[-1.16,-0.52],
  [-1.07,0.62],[-1.04,0.45],[-1.02,0.30],[-1.06,0.15],[-1.03,-0.10],[-1.05,-0.30],[-1.02,-0.48],[-1.06,-0.62],
  [-0.96,0.70],[-0.93,0.55],[-0.95,0.38],[-0.92,0.20],[-0.94,-0.15],[-0.92,-0.35],[-0.95,-0.55],[-0.93,-0.72],
  [-0.86,0.78],[-0.83,0.62],[-0.85,0.45],[-0.82,0.30],[-0.84,-0.25],[-0.86,-0.45],[-0.83,-0.60],[-0.85,-0.78],
  [-0.76,0.80],[-0.73,0.65],[-0.75,0.50],[-0.74,-0.38],[-0.72,-0.55],[-0.76,-0.72],[-0.73,-0.85],
  [-0.62,0.95],[-0.60,0.78],[-0.58,0.62],[-0.61,0.45],[-0.60,-0.40],[-0.58,-0.58],[-0.62,-0.78],[-0.60,-0.93],
  [-0.47,0.92],[-0.44,0.75],[-0.46,0.60],[-0.43,0.42],[-0.45,-0.35],[-0.47,-0.52],[-0.44,-0.70],[-0.46,-0.88],
  [-0.32,0.95],[-0.29,0.80],[-0.31,0.62],[-0.28,0.45],[-0.30,-0.42],[-0.32,-0.60],[-0.29,-0.82],[-0.31,-0.95],
  [-0.17,0.98],[-0.14,0.82],[-0.16,0.65],[-0.13,0.50],[-0.15,-0.38],[-0.17,-0.55],[-0.14,-0.75],[-0.16,-0.92],
  [-0.02,0.96],[0.01,0.80],[-0.01,0.62],[0.02,0.45],[0.00,-0.45],[-0.02,-0.62],[0.01,-0.90],[0.03,-1.00],
  [0.13,1.05],[0.16,0.88],[0.14,0.70],[0.17,0.52],[0.15,-0.48],[0.13,-0.65],[0.16,-0.85],[0.14,-1.02],
  [0.28,1.02],[0.31,0.85],[0.29,0.68],[0.32,0.50],[0.30,-0.50],[0.28,-0.70],[0.31,-0.85],[0.29,-1.05],
  [0.47,1.10],[0.44,0.92],[0.46,0.72],[0.43,0.52],[0.45,-0.45],[0.47,-0.62],[0.44,-0.82],[0.46,-1.08],
  [0.62,1.05],[0.59,0.88],[0.61,0.70],[0.58,0.50],[0.60,-0.42],[0.62,-0.65],[0.59,-0.88],[0.61,-1.02],
  [0.77,1.00],[0.74,0.85],[0.76,0.68],[0.73,0.48],[0.75,-0.48],[0.77,-0.70],[0.74,-0.95],[0.76,-1.05],
  [0.92,1.08],[0.89,0.90],[0.91,0.72],[0.88,0.55],[0.90,-0.40],[0.92,-0.60],[0.89,-0.85],[0.91,-1.00],
  [1.07,1.05],[1.04,0.85],[1.06,0.70],[1.03,0.50],[1.05,-0.50],[1.07,-0.70],[1.04,-0.90],[1.06,-1.02],
  [1.22,1.00],[1.19,0.82],[1.21,0.62],[1.18,0.45],[1.20,-0.42],[1.22,-0.62],[1.19,-0.85],[1.21,-0.98],
  [1.37,0.95],[1.34,0.78],[1.36,0.60],[1.33,0.42],[1.35,-0.38],[1.37,-0.58],[1.34,-0.78],[1.36,-0.95],
  [1.52,0.92],[1.49,0.75],[1.51,0.55],[1.48,0.38],[1.50,-0.35],[1.52,-0.55],[1.49,-0.75],[1.51,-0.92],
  [1.67,0.95],[1.64,0.78],[1.66,0.60],[1.63,0.40],[1.65,-0.32],[1.67,-0.52],[1.64,-0.72],[1.66,-0.90],
  [1.82,0.88],[1.79,0.72],[1.81,0.55],[1.78,0.35],[1.80,-0.30],[1.82,-0.50],[1.79,-0.70],[1.81,-0.85],
  [1.97,0.80],[1.94,0.65],[1.96,0.45],[1.93,0.30],[1.95,-0.25],[1.97,-0.45],[1.94,-0.62],[1.96,-0.80],
  [2.12,0.75],[2.09,0.58],[2.11,0.40],[2.08,0.22],[2.10,-0.20],[2.12,-0.40],[2.09,-0.58],[2.11,-0.75],
  [2.27,0.72],[2.24,0.55],[2.26,0.38],[2.23,0.20],[2.25,0.05],[2.24,-0.10],[2.25,-0.28],[2.27,-0.45],[2.24,-0.62],[2.26,-0.72],
  [2.42,0.58],[2.39,0.45],[2.41,0.30],[2.38,0.15],[2.40,0.00],[2.42,-0.12],[2.39,-0.30],[2.41,-0.45],[2.38,-0.60],
  [2.57,0.45],[2.54,0.30],[2.56,0.18],[2.53,0.05],[2.55,-0.08],[2.57,-0.20],[2.54,-0.35],[2.56,-0.48],
  [2.72,0.28],[2.69,0.12],[2.71,0.00],[2.68,-0.12],[2.70,-0.25]
];

// Ωo = 30 Hz
const mapH = [
  [4.00,0.18],[4.10,0.25],[4.25,0.28],[4.40,0.30],[4.55,0.33],[4.70,0.35],[4.85,0.36],[5.00,0.38],[5.15,0.36],[5.30,0.40],[5.45,0.38],[5.60,0.41],[5.75,0.39],[5.90,0.42],[6.05,0.40],[6.20,0.43],[6.35,0.40],[6.50,0.42],[6.65,0.39],[6.80,0.41],[6.95,0.38],[7.10,0.40],[7.25,0.36],[7.40,0.37],[7.55,0.34],[7.70,0.33],[7.85,0.30],[8.00,0.28],[8.15,0.24],[8.30,0.20],[8.45,0.15],[8.60,0.10],
  [4.20,0.12],[4.35,0.18],[4.50,0.20],[4.65,0.22],[4.80,0.24],[4.95,0.22],[5.10,0.26],[5.25,0.24],[5.40,0.28],[5.55,0.25],[5.70,0.29],[5.85,0.26],[6.00,0.30],[6.15,0.27],[6.30,0.30],[6.45,0.27],[6.60,0.30],[6.75,0.26],[6.90,0.29],[7.05,0.25],[7.20,0.27],[7.35,0.23],[7.50,0.24],[7.65,0.20],[7.80,0.21],[7.95,0.17],[8.10,0.15],[8.25,0.11],[8.40,0.08],
  [4.00,-0.15],[4.10,-0.22],[4.25,-0.26],[4.40,-0.30],[4.55,-0.32],[4.70,-0.35],[4.85,-0.34],[5.00,-0.37],[5.15,-0.38],[5.30,-0.36],[5.45,-0.40],[5.60,-0.38],[5.75,-0.41],[5.90,-0.39],[6.05,-0.42],[6.20,-0.40],[6.35,-0.43],[6.50,-0.41],[6.65,-0.42],[6.80,-0.39],[6.95,-0.41],[7.10,-0.37],[7.25,-0.38],[7.40,-0.35],[7.55,-0.35],[7.70,-0.31],[7.85,-0.30],[8.00,-0.26],[8.15,-0.24],[8.30,-0.19],[8.45,-0.15],[8.60,-0.10],
  [4.20,-0.10],[4.35,-0.15],[4.50,-0.18],[4.65,-0.20],[4.80,-0.19],[4.95,-0.23],[5.10,-0.21],[5.25,-0.25],[5.40,-0.23],[5.55,-0.27],[5.70,-0.24],[5.85,-0.28],[6.00,-0.25],[6.15,-0.29],[6.30,-0.26],[6.45,-0.29],[6.60,-0.26],[6.75,-0.28],[6.90,-0.24],[7.05,-0.26],[7.20,-0.22],[7.35,-0.23],[7.50,-0.19],[7.65,-0.20],[7.80,-0.16],[7.95,-0.15],[8.10,-0.12],[8.25,-0.09],[8.40,-0.06],
  [3.88,0.00],[3.90,0.08],[3.90,-0.08],[3.95,0.12],[3.95,-0.12],[3.93,0.03],[3.93,-0.04],[4.00,0.05],[4.00,-0.05],[4.05,0.10],[4.05,-0.10],[3.98,0.15],[3.98,-0.16],
  [8.55,0.05],[8.60,-0.03],[8.65,0.02],[8.70,0.06],[8.70,-0.06],[8.75,0.00],[8.80,0.03],[8.80,-0.04],[8.50,0.00],[8.55,-0.08],[8.62,0.10],[8.68,-0.10],[8.45,0.05],[8.50,-0.05]
];

// ---- tick values per axis ----
const ticksAx = [-0.015, -0.01, -0.005, 0, 0.005, 0.01, 0.015];
const ticksAy = [-0.02, -0.015, -0.01, -0.005, 0, 0.005, 0.01, 0.015, 0.02];
const ticksBx = [-0.5, -0.4, -0.3, -0.2, -0.1, 0, 0.1, 0.2, 0.3, 0.4];
const ticksBy = [-0.4, -0.3, -0.2, -0.1, 0, 0.1, 0.2, 0.3, 0.4, 0.5];
const ticksC  = [-3, -2, -1, 0, 1, 2, 3];
const ticksD  = [-10, -8, -6, -4, -2, 0, 2, 4, 6, 8, 10];
const ticksEF = [-2, -1.5, -1, -0.5, 0, 0.5, 1, 1.5, 2, 2.5];
const ticksGx = [-1.5, -1, -0.5, 0, 0.5, 1, 1.5, 2, 2.5, 3];
const ticksGy = [-2.5, -2, -1.5, -1, -0.5, 0, 0.5, 1, 1.5, 2];
const ticksHx = [1, 2, 3, 4, 5, 6, 7, 8, 9, 10];
const ticksHy = [-4, -3, -2, -1, 0, 1, 2, 3, 4, 5];

// ---- captions ----
const captions = [
  '(a) Poincare\u2019 map when \u03A9o=0.1Hz',
  '(b) Poincare\u2019 map when \u03A9o=0.3Hz',
  '(c) Poincare\u2019 map when \u03A9o=0.6Hz',
  '(d) Poincare\u2019 map when \u03A9o=1.1Hz',
  '(e) Poincare\u2019 map when \u03A9o=3.3Hz',
  '(f) Poincare\u2019 map when \u03A9o=5Hz',
  '(g) Poincare\u2019 map when \u03A9o=10Hz',
  '(h) Poincare\u2019 map when \u03A9o=30Hz'
];

// ---- page layout: plot box [left, top, right, bottom], axis limits, label spots ----
const panels = [
  { pts: mapA, xr: [-0.01575, 0.0172], yr: [-0.0232, 0.0226], xt: ticksAx, yt: ticksAy,
    box: [36, 6, 369, 212], r: 1.45, xl: [197, 228], yl: [[383, 108]], cap: [33, 241] },
  { pts: mapB, xr: [-0.5, 0.499], yr: [-0.48, 0.5], xt: ticksBx, yt: ticksBy,
    box: [418, 6, 756, 210], r: 1.45, xl: [586, 229], yl: [[767, 108]], cap: [402, 241] },
  { pts: mapC, xr: [-3, 3], yr: [-3, 3], xt: ticksC, yt: ticksC,
    box: [33, 289, 381, 479], r: 1.7, xl: [207, 498], yl: [], cap: [32, 529] },
  { pts: mapD, xr: [-10, 10], yr: [-10, 10], xt: ticksD, yt: ticksD,
    box: [420, 289, 760, 487], r: 1.7, xl: [589, 507], yl: [[391, 388]], cap: [420, 527] },
  { pts: mapE, xr: [-2.24, 2.65], yr: [-2.16, 2.84], xt: ticksEF, yt: ticksEF,
    box: [33, 575, 377, 770], r: 1.55, xl: [202, 789], yl: [], cap: [40, 807] },
  { pts: mapF, xr: [-2.27, 2.7], yr: [-2.47, 2.57], xt: ticksEF, yt: ticksEF,
    box: [419, 574, 760, 755], r: 1.05, xl: [589, 778], yl: [[388, 666], [770, 666]], cap: [419, 814] },
  { pts: mapG, xr: [-1.77, 3.27], yr: [-2.58, 2.37], xt: ticksGx, yt: ticksGy,
    box: [43, 857, 386, 1032], r: 1.05, xl: [212, 1054], yl: [], cap: [43, 1090] },
  { pts: mapH, xr: [0.8, 10.9], yr: [-4.54, 5.38], xt: ticksHx, yt: ticksHy,
    box: [423, 856, 760, 1047], r: 1.3, xl: [582, 1069], yl: [[399, 951]], cap: [419, 1090] }
];

const FONT = "'Liberation Sans', Arial, sans-serif";

// Closed axes box with short inward ticks on all four sides
const framePlugin = {
  id: 'frame',
  afterDatasetsDraw(chart) {
    const { ctx, chartArea: a, scales: { x, y } } = chart;
    const L = 4;
    ctx.save();
    ctx.strokeStyle = '#000';
    ctx.lineWidth = 1.3;
    ctx.strokeRect(a.left, a.top, a.right - a.left, a.bottom - a.top);
    ctx.beginPath();
    x.ticks.forEach(t => {
      const p = x.getPixelForValue(t.value);
      ctx.moveTo(p, a.bottom); ctx.lineTo(p, a.bottom - L);
      ctx.moveTo(p, a.top); ctx.lineTo(p, a.top + L);
    });
    y.ticks.forEach(t => {
      const p = y.getPixelForValue(t.value);
      ctx.moveTo(a.left, p); ctx.lineTo(a.left + L, p);
      ctx.moveTo(a.right, p); ctx.lineTo(a.right - L, p);
    });
    ctx.stroke();
    ctx.restore();
  }
};

function addText(cls, txt, x, y) {
  const d = document.createElement('div');
  d.className = cls;
  d.textContent = txt;
  d.style.left = x + 'px';
  d.style.top = y + 'px';
  document.body.appendChild(d);
  return d;
}

panels.forEach((p, i) => {
  const [l, t, r, b] = p.box;
  const padL = Math.min(l, 40), padT = Math.min(t, 8), padR = 8, padB = 20;
  const w = (r - l) + padL + padR, h = (b - t) + padT + padB;

  const holder = document.createElement('div');
  holder.className = 'panel';
  holder.style.left = (l - padL) + 'px';
  holder.style.top = (t - padT) + 'px';
  holder.style.width = w + 'px';
  holder.style.height = h + 'px';
  const cv = document.createElement('canvas');
  cv.width = w; cv.height = h;
  cv.style.width = w + 'px'; cv.style.height = h + 'px';
  holder.appendChild(cv);
  document.body.appendChild(holder);

  const tickFont = { family: FONT, size: 9, weight: 'bold' };
  const axisCommon = {
    type: 'linear',
    grid: { display: false, drawTicks: false, tickLength: 0 },
    border: { display: false }
  };

  new Chart(cv, {
    type: 'scatter',
    data: {
      datasets: [{
        data: p.pts.map(([x, y]) => ({ x, y })),
        pointRadius: p.r,
        pointHoverRadius: p.r,
        pointBackgroundColor: '#000',
        pointBorderWidth: 0,
        showLine: false
      }]
    },
    options: {
      responsive: false,
      animation: false,
      events: [],
      layout: { padding: { top: padT, right: padR, left: 0, bottom: 0 } },
      plugins: { legend: { display: false }, tooltip: { enabled: false } },
      scales: {
        x: Object.assign({}, axisCommon, {
          position: 'bottom',
          min: p.xr[0], max: p.xr[1],
          afterBuildTicks: s => { s.ticks = p.xt.map(v => ({ value: v })); },
          afterFit: s => { s.height = padB; },
          ticks: { font: tickFont, color: '#000', padding: 2, autoSkip: false,
                   maxRotation: 0, minRotation: 0, callback: v => String(v) }
        }),
        y: Object.assign({}, axisCommon, {
          position: 'left',
          min: p.yr[0], max: p.yr[1],
          afterBuildTicks: s => { s.ticks = p.yt.map(v => ({ value: v })); },
          afterFit: s => { s.width = padL; },
          ticks: { font: tickFont, color: '#000', padding: 3, autoSkip: false,
                   callback: v => String(v) }
        })
      }
    },
    plugins: [framePlugin]
  });

  addText('xl', 'x', p.xl[0], p.xl[1]);
  p.yl.forEach(([x, y]) => addText('yl', 'y', x, y));
  addText('cap', captions[i], p.cap[0], p.cap[1] - 9);
});
</script>
</body>
</html>
